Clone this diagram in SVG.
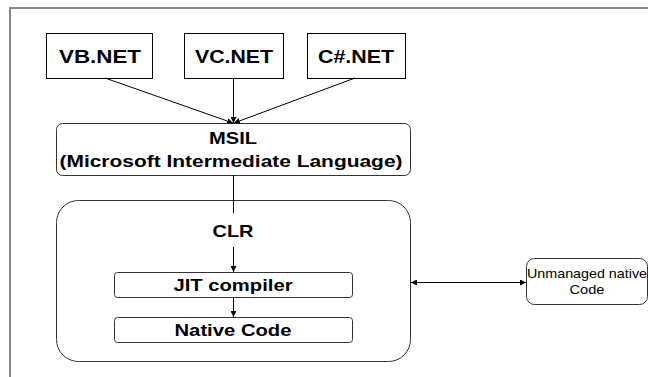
<svg xmlns="http://www.w3.org/2000/svg" width="648" height="377" viewBox="0 0 648 377">
<style>
.box{fill:#fff;stroke:#000;stroke-width:1}
.rbox{fill:#fff;stroke:#333;stroke-width:1}
.t{font-family:"Liberation Sans",Arial,sans-serif;font-weight:bold;fill:#000;text-anchor:middle}
.s{font-family:"Liberation Sans",Arial,sans-serif;fill:#000;text-anchor:middle;font-size:13px}
.c{stroke:#000;stroke-width:1;fill:none}
</style>
<defs>
<marker id="ah" viewBox="0 0 10 10" refX="10" refY="5" markerWidth="6" markerHeight="6" orient="auto-start-reverse" markerUnits="userSpaceOnUse">
<path d="M0,0 L10,5 L0,10 z" fill="#000"/>
</marker>
</defs>
<rect width="648" height="377" fill="#fff"/>
<path d="M10,377 V8 H648" fill="none" stroke="#888" stroke-width="2"/>
<g id="vbnet"><rect class="box" x="46.5" y="33.5" width="106" height="45"/><text class="t" x="100" y="63" font-size="19" textLength="82" lengthAdjust="spacingAndGlyphs">VB.NET</text></g>
<g id="vcnet"><rect class="box" x="184.5" y="33.5" width="99" height="45"/><text class="t" x="234" y="63" font-size="19" textLength="78" lengthAdjust="spacingAndGlyphs">VC.NET</text></g>
<g id="csnet"><rect class="box" x="307.5" y="33.5" width="98" height="45"/><text class="t" x="356" y="63" font-size="19" textLength="76" lengthAdjust="spacingAndGlyphs">C#.NET</text></g>
<g id="msil"><rect class="rbox" x="56.5" y="123.5" width="354" height="52" rx="6"/><text class="t" x="233" y="144" font-size="17" textLength="48" lengthAdjust="spacingAndGlyphs">MSIL</text><text class="t" x="231" y="167" font-size="17" textLength="343" lengthAdjust="spacingAndGlyphs">(Microsoft Intermediate Language)</text></g>
<g id="clr"><rect class="rbox" x="56.5" y="200.5" width="354" height="161" rx="22"/><text class="t" x="233" y="237" font-size="16.5" textLength="41" lengthAdjust="spacingAndGlyphs">CLR</text></g>
<g id="jit"><rect class="rbox" x="114.5" y="272.5" width="238" height="25" rx="3"/><text class="t" x="233" y="291" font-size="16.5" textLength="119" lengthAdjust="spacingAndGlyphs">JIT compiler</text></g>
<g id="native"><rect class="rbox" x="114.5" y="317.5" width="238" height="25" rx="3"/><text class="t" x="233" y="336" font-size="16.5" textLength="117" lengthAdjust="spacingAndGlyphs">Native Code</text></g>
<g id="unmanaged"><rect class="rbox" x="526.5" y="258.5" width="121" height="46" rx="8"/><text class="s" x="587" y="278" textLength="120" lengthAdjust="spacingAndGlyphs">Unmanaged native</text><text class="s" x="587" y="294" textLength="35" lengthAdjust="spacingAndGlyphs">Code</text></g>
<g id="connectors">
<line class="c" x1="105" y1="78" x2="233" y2="123" marker-end="url(#ah)"/>
<line class="c" x1="233.5" y1="78" x2="233.5" y2="123" marker-end="url(#ah)"/>
<line class="c" x1="355" y1="78" x2="234" y2="123" marker-end="url(#ah)"/>
<line class="c" x1="233.5" y1="175" x2="233.5" y2="213"/>
<line class="c" x1="233.5" y1="247" x2="233.5" y2="272" marker-end="url(#ah)"/>
<line class="c" x1="233.5" y1="298" x2="233.5" y2="317" marker-end="url(#ah)"/>
<line class="c" x1="411" y1="282.5" x2="526" y2="282.5" marker-start="url(#ah)" marker-end="url(#ah)"/>
</g>
</svg>
